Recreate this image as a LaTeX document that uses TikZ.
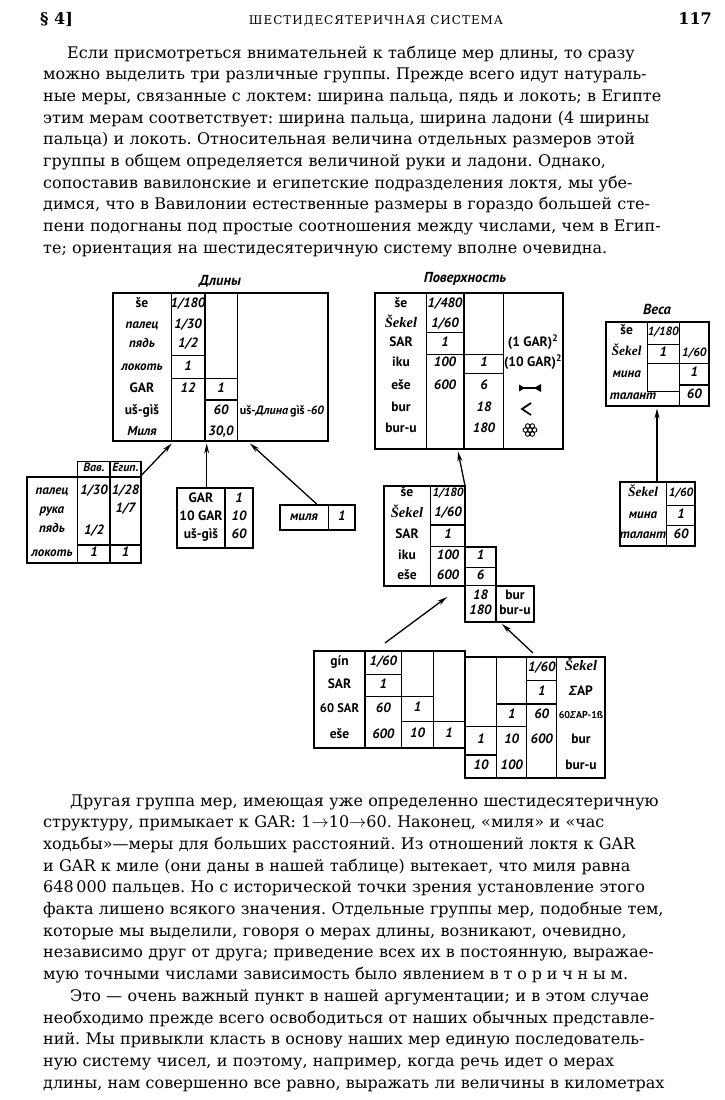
\documentclass[tikz,border=0pt]{standalone}
\usepackage{fontspec}
\setmainfont{DejaVu Serif}
\newfontfamily\tabfont{PT Sans}
\newfontfamily\grfont{Liberation Sans}
\newfontfamily\sekfont{Liberation Serif}
\usepackage{tikz}
\usetikzlibrary{arrows.meta}
\usetikzlibrary{positioning}
\setlength\parindent{0pt}
\setlength\parskip{0pt}
\frenchspacing
\tikzstyle{frame}=[line width=1.8pt]
\tikzstyle{sep}=[line width=1.3pt]
\tikzstyle{lab}=[inner sep=0pt,anchor=mid,font=\tabfont\bfseries\fontsize{13.5}{14}\selectfont]
\tikzstyle{rus}=[inner sep=0pt,anchor=mid,font=\tabfont\bfseries\itshape\fontsize{13}{14}\selectfont]
\tikzstyle{num}=[inner sep=0pt,anchor=mid,font=\tabfont\bfseries\itshape\fontsize{13.5}{14}\selectfont]
\tikzstyle{small}=[font=\tabfont\bfseries\itshape\fontsize{12}{14}\selectfont]
\tikzstyle{sek}=[inner sep=0pt,anchor=mid,font=\sekfont\bfseries\itshape\fontsize{14.5}{14}\selectfont]
\tikzstyle{title}=[inner sep=0pt,anchor=mid,font=\tabfont\bfseries\itshape\fontsize{14.5}{16}\selectfont]
\tikzstyle{arrow}=[-{Stealth[length=10pt,width=5pt]},line width=1.3pt]
\tikzstyle{para}=[inner sep=0pt,anchor=base west,text width=669pt,align=left,font=\fontsize{16}{21.7}\selectfont]
\newcommand\jline[2][0pt]{\hspace*{#1}\makebox[\dimexpr669pt-#1\relax][s]{#2}\par}
\newcommand\spaced[1]{{\addfontfeature{LetterSpace=30}#1}}

\begin{document}
\begin{tikzpicture}[x=1pt,y=-1pt]
  \fill[white] (0,0) rectangle (725,1100);
  \useasboundingbox (0,0) rectangle (725,1100);

  % page head
  \node[inner sep=0pt,anchor=base west,font=\bfseries\fontsize{16}{18}\selectfont] at (40,24) (sect) {§ 4]};
  \node[inner sep=0pt,anchor=base,font=\fontsize{12}{14}\selectfont\addfontfeature{LetterSpace=8}] at (376,24) (head) {ШЕСТИДЕСЯТЕРИЧНАЯ СИСТЕМА};
  \node[inner sep=0pt,anchor=base east,font=\bfseries\fontsize{16}{18}\selectfont] at (712,24) (page) {117};

  % text above the tables
  \node[para] at (43,58) (par1) {%
    \jline[24pt]{Если присмотреться внимательней к таблице мер длины, то сразу}
    \jline{можно выделить три различные группы. Прежде всего идут натураль-}
    \jline{ные меры, связанные с локтем: ширина пальца, пядь и локоть; в Египте}
    \jline{этим мерам соответствует: ширина пальца, ширина ладони (4 ширины}
    \jline{пальца) и локоть. Относительная величина отдельных размеров этой}
    \jline{группы в общем определяется величиной руки и ладони. Однако,}
    \jline{сопоставив вавилонские и египетские подразделения локтя, мы убе-}
    \jline{димся, что в Вавилонии естественные размеры в гораздо большей сте-}
    \jline{пени подогнаны под простые соотношения между числами, чем в Егип-}
    \makebox[612pt][s]{те; ориентация на шестидесятеричную систему вполне очевидна.}\par};

  % Длины
  \node[title] at (220,283) (tdl) {Длины};
  \draw[frame] (112.7,293.3) rectangle (328,441);
  \draw[sep] (171.7,293.3) -- (171.7,441);
  \draw[sep] (205,293.3) -- (205,441);
  \draw[sep] (237.7,293.3) -- (237.7,441);
  \draw[sep] (171.7,355.7) -- (205,355.7);
  \draw[sep] (171.7,378.3) -- (237.7,378.3);
  \draw[sep] (205,400) -- (237.7,400);
  \node[lab] at (142,305) (dse) {še};
  \node[rus] at (142,326) (dpal) {палец};
  \node[rus] at (142,345) (dpyad) {пядь};
  \node[rus] at (142,368) (dlok) {локоть};
  \node[lab] at (142,390) (dgar) {GAR};
  \node[lab] at (142,412) (dus) {uš-gìš};
  \node[rus] at (142,433) (dmil) {Миля};
  \node[num] at (188,305) (dv1) {1/180};
  \node[num] at (188,326) (dv2) {1/30};
  \node[num] at (188,345) (dv3) {1/2};
  \node[num] at (188,368) (dv4) {1};
  \node[num] at (188,390) (dv5) {12};
  \node[num] at (221,390) (dw1) {1};
  \node[num] at (221,412) (dw2) {60};
  \node[num] at (221,433) (dw3) {30,0};
  \node[lab,font=\tabfont\bfseries\fontsize{12}{14}\selectfont] at (282,412) (dlen) {uš-\textit{Длина}\,gìš\,\textit{-60}};

  % Вав. / Егип.
  \draw[sep] (77.7,461.7) rectangle (141,476.7);
  \draw[sep] (110,461.7) -- (110,476.7);
  \draw[frame] (26.7,476.7) rectangle (141,563);
  \draw[sep] (77.7,476.7) -- (77.7,563);
  \draw[sep] (110,476.7) -- (110,563);
  \draw[sep] (77.7,545) -- (141,545);
  \node[rus,font=\tabfont\bfseries\itshape\fontsize{12}{12}\selectfont] at (94,469) (hbab) {Вав.};
  \node[rus,font=\tabfont\bfseries\itshape\fontsize{12}{12}\selectfont] at (125.5,469) (hegi) {Егип.};
  \node[rus] at (52,492) (epal) {палец};
  \node[rus] at (52,511) (eruk) {рука};
  \node[rus] at (52,530) (epyad) {пядь};
  \node[rus] at (52,554) (elok) {локоть};
  \node[num] at (94,492) (ev1) {1/30};
  \node[num] at (94,532) (ev2) {1/2};
  \node[num] at (94,554) (ev3) {1};
  \node[num] at (125.5,492) (ew1) {1/28};
  \node[num] at (125.5,510) (ew2) {1/7};
  \node[num] at (125.5,554) (ew3) {1};

  % GAR
  \draw[frame] (177.3,487.7) rectangle (253.3,548.3);
  \draw[sep] (225,487.7) -- (225,548.3);
  \node[lab] at (201,500) (ggar) {GAR};
  \node[lab] at (201,518) (g10) {10 GAR};
  \node[lab] at (201,536) (gus) {uš-gìš};
  \node[num] at (239,500) (gv1) {1};
  \node[num] at (239,518) (gv2) {10};
  \node[num] at (239,536) (gv3) {60};

  % миля
  \draw[frame] (280,505) rectangle (355,530);
  \draw[sep] (328.3,505) -- (328.3,530);
  \node[rus] at (304,517.5) (mmil) {миля};
  \node[num] at (341.7,517.5) (mv1) {1};

  % Поверхность
  \node[title] at (465,280) (tpov) {Поверхность};
  \draw[frame] (375,293.3) rectangle (563.3,449);
  \draw[sep] (426.7,293.3) -- (426.7,449);
  \draw[sep] (464,293.3) -- (464,449);
  \draw[sep] (503.3,293.3) -- (503.3,449);
  \draw[sep] (426.7,332.7) -- (464,332.7);
  \draw[sep] (426.7,354.3) -- (503.3,354.3);
  \draw[sep] (464,373.3) -- (503.3,373.3);
  \node[lab] at (401,305) (pse) {še};
  \node[sek] at (401,325) (psek) {Šekel};
  \node[lab] at (401,344) (psar) {SAR};
  \node[lab] at (401,364) (piku) {iku};
  \node[lab] at (401,387) (pese) {eše};
  \node[lab] at (401,409) (pbur) {bur};
  \node[lab] at (401,430) (pburu) {bur-u};
  \node[num] at (445,305) (pv1) {1/480};
  \node[num] at (445,325) (pv2) {1/60};
  \node[num] at (445,344) (pv3) {1};
  \node[num] at (445,364) (pv4) {100};
  \node[num] at (445,387) (pv5) {600};
  \node[num] at (484,364) (pw1) {1};
  \node[num] at (484,387) (pw2) {6};
  \node[num] at (484,409) (pw3) {18};
  \node[num] at (484,430) (pw4) {180};
  \node[lab] at (533,344) (pg1) {(1 GAR)\textsuperscript{2}};
  \node[lab] at (533,364) (pg2) {(10 GAR)\textsuperscript{2}};
  \draw[line width=1.5pt] (522,388) -- (536,388);
  \fill (519,384.5) -- (525,388) -- (519,391.5) -- cycle;
  \fill (534,388) -- (541,384) -- (541,392) -- cycle;
  \draw[line width=1.8pt] (531,403) -- (522,409) -- (531,415);
  \draw[line width=0.9pt] (530,430) circle (2.3);
  \foreach \a in {0,60,...,300}
    \draw[line width=0.9pt] ({530+4.6*cos(\a)},{430+4.6*sin(\a)}) circle (2.3);

  % Веса
  \node[title] at (657,311.7) (tves) {Веса};
  \draw[frame] (606,321.7) rectangle (709.3,406);
  \draw[sep] (647.3,321.7) -- (647.3,391.7) -- (679.3,391.7);
  \draw[sep] (679.3,321.7) -- (679.3,406);
  \draw[sep] (647.3,344.3) -- (679.3,344.3);
  \draw[sep] (647.3,363.3) -- (709.3,363.3);
  \draw[sep] (679.3,385) -- (709.3,385);
  \node[lab] at (626.7,332) (vse) {še};
  \node[sek,font=\sekfont\bfseries\itshape\fontsize{13.5}{14}\selectfont] at (626.7,353) (vsek) {Šekel};
  \node[rus] at (626.7,375) (vmin) {мина};
  \node[rus] at (633,397) (vtal) {талант};
  \node[num,small] at (663.3,333) (vv1) {1/180};
  \node[num] at (663.3,353.5) (vv2) {1};
  \node[num,small] at (694.3,353.5) (vw1) {1/60};
  \node[num] at (694.3,374) (vw2) {1};
  \node[num] at (694.3,395.5) (vw3) {60};

  % Šekel / мина / талант
  \draw[frame] (620,482.3) rectangle (695,545.7);
  \draw[sep] (666.7,482.3) -- (666.7,545.7);
  \draw[sep] (666.7,505.7) -- (695,505.7);
  \draw[sep] (666.7,525.7) -- (695,525.7);
  \node[sek,font=\sekfont\bfseries\itshape\fontsize{13.5}{14}\selectfont] at (643,494) (ssek) {Šekel};
  \node[rus] at (643,516) (smin) {мина};
  \node[rus] at (643,535.5) (stal) {талант};
  \node[num,small] at (681,494) (sv1) {1/60};
  \node[num] at (681,516) (sv2) {1};
  \node[num] at (681,535.5) (sv3) {60};

  % middle table
  \draw[frame] (384,485.7) -- (465,485.7) -- (465,546.7) -- (496,546.7) -- (496,585.7) -- (534,585.7)
    -- (534,621.7) -- (465,621.7) -- (465,585.7) -- (384,585.7) -- cycle;
  \draw[sep] (430.7,485.7) -- (430.7,585.7);
  \draw[sep] (430.7,525) -- (465,525);
  \draw[sep] (430.7,546.7) -- (465,546.7);
  \draw[sep] (465,546.7) -- (465,585.7) -- (496,585.7);
  \draw[sep] (465,567.7) -- (496,567.7);
  \draw[sep] (496,585.7) -- (496,621.7);
  \node[lab] at (407,494) (mse) {še};
  \node[sek] at (407,515) (msek) {Šekel};
  \node[lab] at (407,536) (msar) {SAR};
  \node[lab] at (407,557) (miku) {iku};
  \node[lab] at (407,577) (mese) {eše};
  \node[num,small] at (448,494) (mv1a) {1/180};
  \node[num] at (448,514) (mv2a) {1/60};
  \node[num] at (448,536) (mv3a) {1};
  \node[num] at (448,557) (mv4a) {100};
  \node[num] at (448,577) (mv5a) {600};
  \node[num] at (480.5,557) (mw1) {1};
  \node[num] at (480.5,577) (mw2) {6};
  \node[num] at (480.5,596.5) (mw3) {18};
  \node[num] at (480.5,612) (mw4) {180};
  \node[lab] at (515,596.5) (mbur) {bur};
  \node[lab] at (515,612) (mburu) {bur-u};

  % bottom table
  \draw[frame] (314,650.7) rectangle (465,748.3);
  \draw[frame] (465,656.7) rectangle (605,778.3);
  \draw[sep] (365,650.7) -- (365,748.3);
  \draw[sep] (401.7,650.7) -- (401.7,748.3);
  \draw[sep] (433.3,650.7) -- (433.3,748.3);
  \draw[sep] (365,674.3) -- (401.7,674.3);
  \draw[sep] (365,696.7) -- (433.3,696.7);
  \draw[sep] (401.7,721.7) -- (465,721.7);
  \draw[sep] (496.7,656.7) -- (496.7,778.3);
  \draw[sep] (526.7,656.7) -- (526.7,778.3);
  \draw[sep] (556.7,656.7) -- (556.7,778.3);
  \draw[sep] (526.7,680.7) -- (556.7,680.7);
  \draw[sep] (496.7,704) -- (556.7,704);
  \draw[sep] (465,726.7) -- (526.7,726.7);
  \draw[sep] (465,755) -- (496.7,755);
  \node[lab] at (339.5,662.5) (bgin) {gín};
  \node[lab] at (339.5,686) (bsar) {SAR};
  \node[lab,font=\tabfont\bfseries\fontsize{12.5}{14}\selectfont] at (339.5,710) (b60) {60 SAR};
  \node[lab] at (339.5,736) (bese) {eše};
  \node[num] at (383.3,662.5) (bv1) {1/60};
  \node[num] at (383.3,685.5) (bv2) {1};
  \node[num] at (383.3,710) (bv3) {60};
  \node[num] at (383.3,736) (bv4) {600};
  \node[num] at (417.5,709) (bw1) {1};
  \node[num] at (417.5,735) (bw2) {10};
  \node[num] at (449,735) (bx1) {1};
  \node[num] at (481,741) (ba1) {1};
  \node[num] at (481,767) (ba2) {10};
  \node[num] at (511.7,716) (bb1) {1};
  \node[num] at (511.7,741) (bb2) {10};
  \node[num] at (511.7,767) (bb3) {100};
  \node[num] at (541.7,668.5) (bc1) {1/60};
  \node[num] at (541.7,692.5) (bc2) {1};
  \node[num] at (541.7,716) (bc3) {60};
  \node[num] at (541.7,741) (bc4) {600};
  \node[sek] at (581,668) (bsek) {Šekel};
  \node[lab] at (581,692.5) (bsig) {{\grfont\itshape Σ}AP};
  \node[lab,font=\tabfont\bfseries\fontsize{10}{12}\selectfont] at (581,716) (bsig60) {60{\grfont\itshape Σ}AP-1ß};
  \node[lab] at (581,741) (bbur) {bur};
  \node[lab] at (581,767) (bburu) {bur-u};

  % arrow ends
  \coordinate (egtop) at (141.7,475);
  \coordinate (dlin1) at (171.7,443.5);
  \coordinate (gartop) at (206.7,487.7);
  \coordinate (dlin2) at (206.7,443.5);
  \coordinate (miltop) at (316.7,504);
  \coordinate (dlin3) at (250,443.5);
  \coordinate (midtop) at (465,485.7);
  \coordinate (povin) at (458,451.5);
  \coordinate (sektop) at (657,482.3);
  \coordinate (vesin) at (657,408.5);
  \coordinate (bot1) at (385,643);
  \coordinate (midin1) at (447,597);
  \coordinate (bot2) at (533,653);
  \coordinate (midin2) at (502,624);
  \draw[arrow] (egtop) -- (dlin1);
  \draw[arrow] (gartop) -- (dlin2);
  \draw[arrow] (miltop) -- (dlin3);
  \draw[arrow] (midtop) -- (povin);
  \draw[arrow] (sektop) -- (vesin);
  \draw[arrow] (bot1) -- (midin1);
  \draw[arrow] (bot2) -- (midin2);

  % text below the tables
  \node[para] at (43,806) (par2) {%
    \jline[27pt]{Другая группа мер, имеющая уже определенно шестидесятеричную}
    \jline{структуру, примыкает к GAR: 1$\rightarrow$10$\rightarrow$60. Наконец, «миля» и «час}
    \jline{ходьбы»—меры для больших расстояний. Из отношений локтя к GAR}
    \jline{и GAR к миле (они даны в нашей таблице) вытекает, что миля равна}
    \jline{648\,000 пальцев. Но с исторической точки зрения установление этого}
    \jline{факта лишено всякого значения. Отдельные группы мер, подобные тем,}
    \jline{которые мы выделили, говоря о мерах длины, возникают, очевидно,}
    \jline{независимо друг от друга; приведение всех их в постоянную, выражае-}
    \jline{мую точными числами зависимость было явлением \spaced{вторичным}.}
    \jline[27pt]{Это — очень важный пункт в нашей аргументации; и в этом случае}
    \jline{необходимо прежде всего освободиться от наших обычных представле-}
    \jline{ний. Мы привыкли класть в основу наших мер единую последователь-}
    \jline{ную систему чисел, и поэтому, например, когда речь идет о мерах}
    \jline{длины, нам совершенно все равно, выражать ли величины в километрах}};
\end{tikzpicture}
\end{document}
